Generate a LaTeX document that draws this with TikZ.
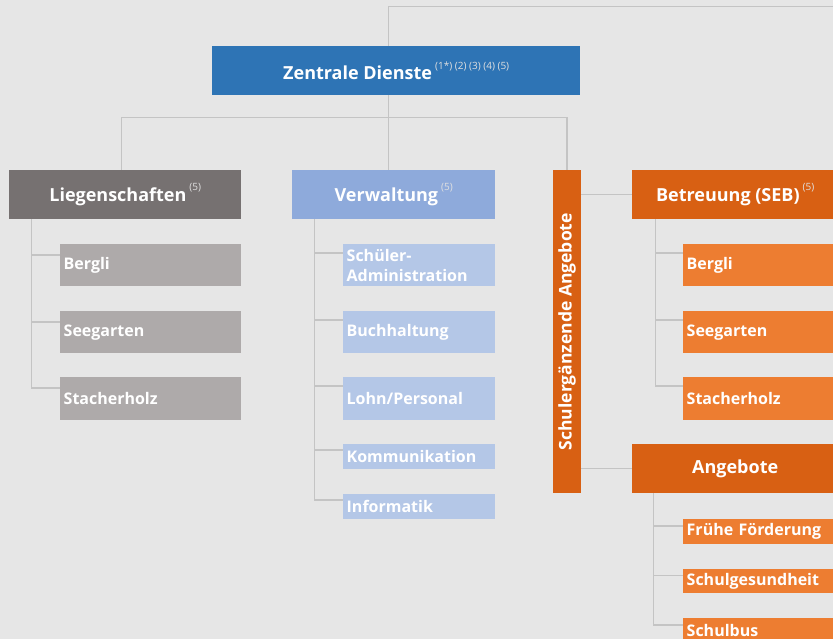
\documentclass[tikz,border=0pt]{standalone}
\usepackage{fontspec}
\setmainfont{Open Sans}
\usetikzlibrary{positioning}
\definecolor{bgcol}{HTML}{E6E6E6}
\definecolor{linecol}{HTML}{C4C4C4}
\definecolor{zdblue}{HTML}{2E74B5}
\definecolor{liegdark}{HTML}{767171}
\definecolor{lieglight}{HTML}{AEAAAA}
\definecolor{verwdark}{HTML}{8EAADB}
\definecolor{verwlight}{HTML}{B4C7E7}
\definecolor{orgdark}{HTML}{D86013}
\definecolor{orglight}{HTML}{ED7D31}
\newcommand{\fn}[1]{\,\raisebox{.6em}{\normalfont\fontsize{10}{10}\selectfont\color{white!88!black}#1}}

\begin{document}
\begin{tikzpicture}[x=1pt, y=-1pt,
    link/.style={draw=linecol, line width=1.2pt},
    head/.style={anchor=north west, inner sep=0, text=white, align=center,
        font=\fontsize{18}{21}\selectfont\bfseries, minimum height=49pt},
    sub/.style={anchor=north west, inner ysep=0, inner xsep=3.5pt, text=white, align=left,
        font=\fontsize{16}{20}\selectfont\bfseries}]
    \clip(0, 0)rectangle(833, 639);
    \fill[bgcol](0, 0)rectangle(833, 639);
    % top level
    \node[head, fill=zdblue, minimum width=368pt](zd)at(212, 46){Zentrale Dienste\fn{(1*) (2) (3) (4) (5)}};
    \node[head, fill=liegdark, minimum width=232pt](lieg)at(9, 170){Liegenschaften\fn{(5)}};
    \node[head, fill=verwdark, minimum width=203pt](verw)at(292, 170){Verwaltung\fn{(5)}};
    \node[inner sep=0, fill=orgdark, text=white, rotate=90, minimum width=323pt, minimum height=28pt,
        font=\fontsize{17.5}{20}\selectfont\bfseries](schul)at(567, 331.7){Schulergänzende Angebote};
    \node[head, fill=orgdark, minimum width=206pt](betr)at(632, 170){Betreuung (SEB)\fn{(5)}};
    \node[head, fill=orgdark, minimum width=206pt](ang)at(632, 444){Angebote};
    % Liegenschaften
    \node[sub, fill=lieglight, text width=174pt, minimum height=42pt](l1)at(60, 244){Bergli};
    \node[sub, fill=lieglight, text width=174pt, minimum height=42pt](l2)at(60, 311){Seegarten};
    \node[sub, fill=lieglight, text width=174pt, minimum height=42.7pt](l3)at(60, 377){Stacherholz};
    % Verwaltung
    \node[sub, fill=verwlight, text width=145pt, minimum height=42pt](v1)at(343, 244){Schüler-\\Administration};
    \node[sub, fill=verwlight, text width=145pt, minimum height=42pt](v2)at(343, 311){Buchhaltung};
    \node[sub, fill=verwlight, text width=145pt, minimum height=42.7pt](v3)at(343, 377){Lohn/Personal};
    \node[sub, fill=verwlight, text width=145pt, minimum height=24.7pt](v4)at(343, 444){Kommunikation};
    \node[sub, fill=verwlight, text width=145pt, minimum height=24.7pt](v5)at(343, 494){Informatik};
    % Betreuung
    \node[sub, fill=orglight, text width=148pt, minimum height=42pt](b1)at(683, 244){Bergli};
    \node[sub, fill=orglight, text width=148pt, minimum height=42pt](b2)at(683, 311){Seegarten};
    \node[sub, fill=orglight, text width=148pt, minimum height=42.7pt](b3)at(683, 377){Stacherholz};
    % Angebote
    \node[sub, fill=orglight, text width=148pt, minimum height=24.3pt](a1)at(683, 519){Frühe Förderung};
    \node[sub, fill=orglight, text width=148pt, minimum height=24pt](a2)at(683, 568.7){Schulgesundheit};
    \node[sub, fill=orglight, text width=148pt, minimum height=24pt](a3)at(683, 618){Schulbus};
    % connectors
    \coordinate(topR)at(833, 6.7);
    \coordinate(bus)at(0, 117.3);
    \draw[link]([xshift=-7.5pt]zd.north)|-(topR);
    \draw[link]([xshift=-7.5pt]zd.south)--([xshift=-7.5pt]zd.south |- verw.north);
    \draw[link]([xshift=-4pt]lieg.north)|-(bus -| schul.east)--(schul.east);
    \draw[link](schul.south |- betr.west)--(betr.west);
    \draw[link](schul.south |- ang.west)--(ang.west);
    \foreach \c in {l1, l2, l3}
        \draw[link]([xshift=22.7pt]lieg.south west)|-([yshift=-11pt]\c.north west);
    \foreach \c in {v1, v2, v3}
        \draw[link]([xshift=22.3pt]verw.south west)|-([yshift=-9pt]\c.north west);
    \foreach \c in {v4, v5}
        \draw[link]([xshift=22.3pt]verw.south west)|-([yshift=-6pt]\c.north west);
    \foreach \c in {b1, b2, b3}
        \draw[link]([xshift=23.3pt]betr.south west)|-([yshift=-9pt]\c.north west);
    \foreach \c in {a1, a2, a3}
        \draw[link]([xshift=21.7pt]ang.south west)|-([yshift=-7pt]\c.north west);
\end{tikzpicture}
\end{document}
